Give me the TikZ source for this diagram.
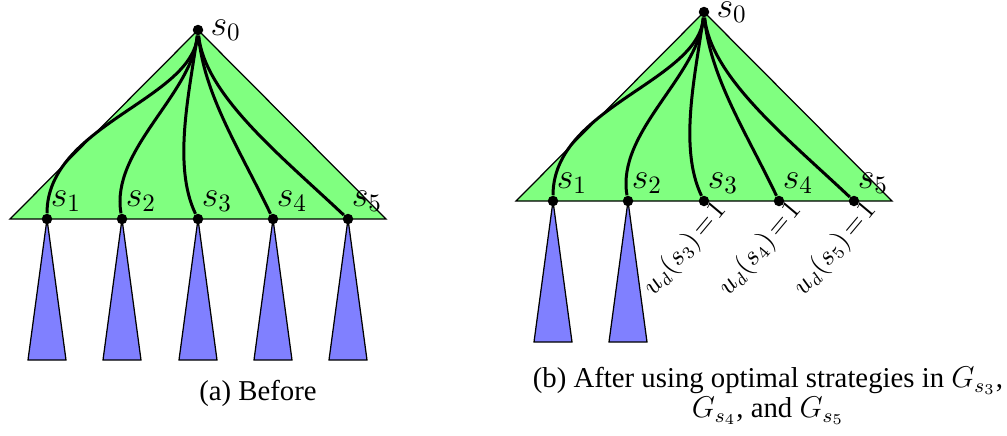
\documentclass[tikz,border=0pt]{standalone}
\usepackage{fontspec}
\setmainfont{Liberation Serif}
\pgfdeclarelayer{bg}
\pgfsetlayers{bg,main}
\begin{document}
\begin{tikzpicture}[x=0.4pt,y=-0.4pt,
  greentri/.style={fill=green!50,draw=black,line width=0.5pt},
  bluetri/.style={fill=blue!50,draw=black,line width=0.5pt},
  dot/.style={circle,fill=black,inner sep=0pt,minimum size=4.2pt},
  branch/.style={line width=1.2pt},
  slabel/.style={font=\fontsize{14.4}{17}\selectfont,inner sep=0pt},
  ulabel/.style={font=\fontsize{10.7}{13}\selectfont,rotate=50,anchor=east,inner sep=0pt},
  caption/.style={font=\fontsize{11.5}{12}\selectfont,align=center,inner sep=0pt}]
\useasboundingbox (0,0) rectangle (1007,435);

\foreach \p/\dx/\dy in {a/0/0,b/506/-18}{
  \begin{scope}[shift={(\dx,\dy)}]
    \node[dot] (\p0) at (198,30) {};
    \node[slabel,anchor=west] (\p l0) at (210,30) {$s_0$};
    \foreach \i/\x in {1/47,2/122,3/198,4/273,5/348}{
      \node[dot] (\p\i) at (\x,219) {};
      \node[slabel] (\p l\i) at (\x+19,201) {$s_{\i}$};
    }
    \begin{pgfonlayer}{bg}
      \draw[greentri] (10,219) -- (\p0.center) -- (386,219) -- cycle;
    \end{pgfonlayer}
    \draw[branch] (\p0) .. controls +(-6,70) and +(0,-94) .. (\p1);
    \draw[branch] (\p0) .. controls +(-6,65) and +(-12,-69) .. (\p2);
    \draw[branch] (\p0) .. controls +(-8,60) and +(-26,-54) .. (\p3);
    \draw[branch] (\p0) .. controls +(6,65) and +(-33,-69) .. (\p4);
    \draw[branch] (\p0) .. controls +(7,65) and +(-68,-64) .. (\p5);
  \end{scope}
}

\begin{pgfonlayer}{bg}
  \foreach \n in {a1,a2,a3,a4,a5}{
    \draw[bluetri] (\n.center) -- ++(-19,141) -- ++(38,0) -- cycle;
  }
  \foreach \n in {b1,b2}{
    \draw[bluetri] (\n.center) -- ++(-19,141) -- ++(38,0) -- cycle;
  }
\end{pgfonlayer}

\foreach \i in {3,4,5}{
  \node[ulabel,xshift=3.5pt,yshift=-6.5pt] (u\i) at (b\i) {$u_d(s_{\i})\!=\!1$};
}

\node[caption] (capa) at (258,393) {(a) Before};
\node[caption] (capb) at (768,396) {(b) After using optimal strategies in $G_{s_3}$,\\ $G_{s_4}$, and $G_{s_5}$};
\end{tikzpicture}
\end{document}
